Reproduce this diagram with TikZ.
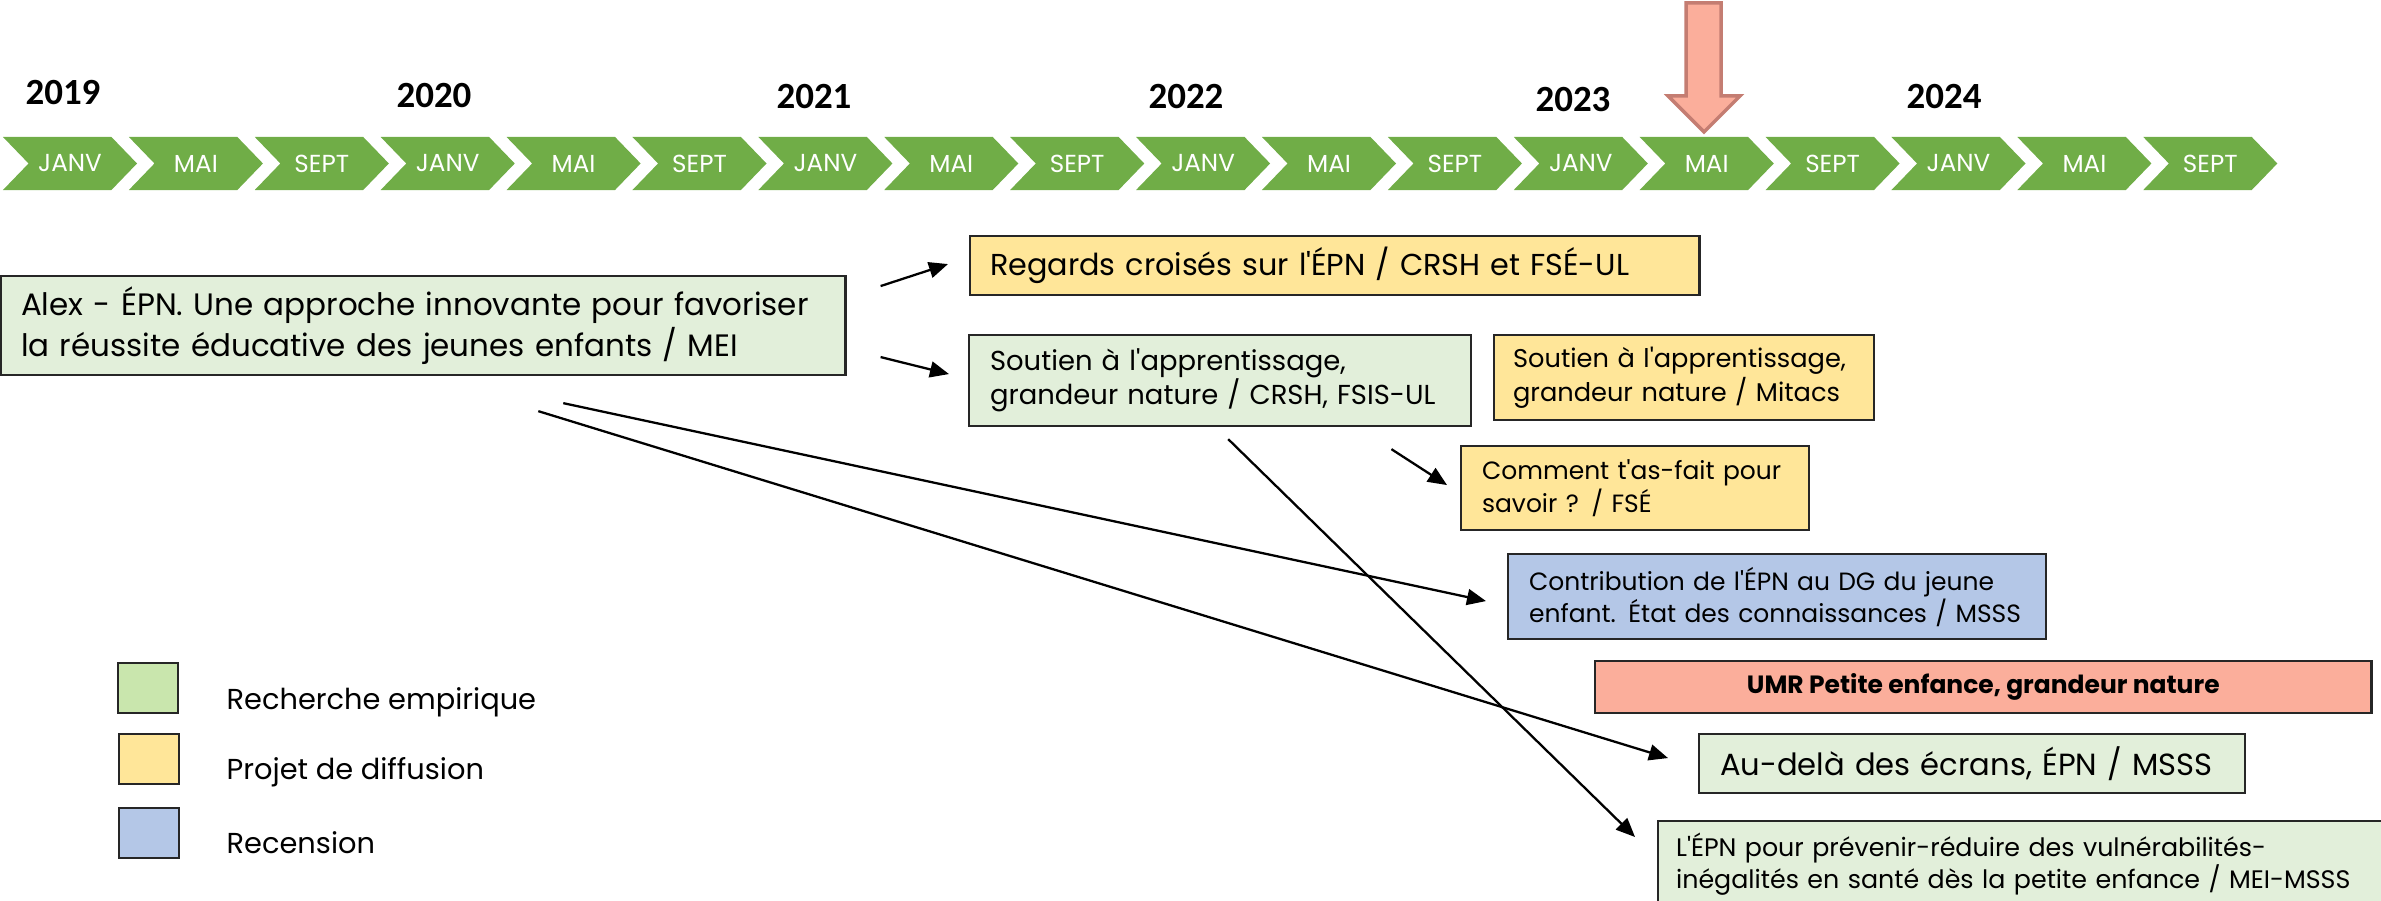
\documentclass[tikz,border=0pt]{standalone}
\usepackage{fontspec}
\newfontfamily\yearfont{Carlito}
\newfontfamily\gothicfont{Poppins}
\usetikzlibrary{shapes.symbols,arrows.meta,calc}
\def\gothic#1#2{\gothicfont\fontsize{#1}{#2}\selectfont}
\definecolor{chevgreen}{HTML}{70AD47}
\definecolor{boxgreen}{HTML}{E2EFDA}
\definecolor{leggreen}{HTML}{C9E6AD}
\definecolor{boxyellow}{HTML}{FFE699}
\definecolor{boxblue}{HTML}{B4C7E7}
\definecolor{salmon}{HTML}{FBAE9B}
\definecolor{salmondark}{HTML}{C47D72}
\def\chevStep{125.9}

\begin{document}
\begin{tikzpicture}[x=0.01cm, y=-0.01cm,
  chev/.style={signal, signal from=west, signal to=east, signal pointer angle=92,
    fill=chevgreen, minimum width=1.34cm, minimum height=0.53cm, inner sep=0pt,
    text=white, font=\gothic{7}{8.5}},
  yr/.style={font=\yearfont\bfseries\fontsize{10.5}{12}\selectfont},
  box/.style={draw=black!85, line width=0.6pt, anchor=north west, inner ysep=0pt, align=left},
  legsq/.style={draw=black!85, line width=0.6pt, anchor=north west,
    minimum width=0.6cm, minimum height=0.5cm, inner sep=0pt},
  legtxt/.style={anchor=west, inner sep=0pt, font=\gothic{8.2}{9.5}},
  link/.style={-{Triangle[length=0.19cm,width=0.16cm]}, line width=0.65pt}]
\useasboundingbox (0,0) rectangle (2381,901);

% timeline
\foreach \yy in {0,...,5}
{
  \foreach \mm [count=\k from 0] in {JANV,MAI,SEPT}
  {
    \pgfmathtruncatemacro\idx{3*\yy+\k}
    \node [chev] (m\idx) at ({3+\idx*\chevStep+67},163.5) {\mm};
  }
}
\node [yr] (y2019) at (63,93) {2019};
\node [yr] (y2020) at (434,96) {2020};
\node [yr] (y2021) at (814,97) {2021};
\node [yr] (y2022) at (1186,97) {2022};
\node [yr] (y2023) at (1573,100) {2023};
\node [yr] (y2024) at (1944,97) {2024};

% now
\draw [fill=salmon, draw=salmondark, line width=1pt]
  (1686,3) -- (1721,3) -- (1721,96) -- (1740,96) -- (1704,132) -- (1668,96) -- (1686,96) -- cycle;

% projects
\node [box, fill=boxgreen, inner xsep=0.2cm, text width=8.04cm, minimum height=0.99cm,
  font=\gothic{8.8}{10.2}] (alex) at (0,275)
  {Alex - ÉPN. Une approche innovante pour favoriser\\la réussite éducative des jeunes enfants / MEI};
\node [box, fill=boxyellow, inner xsep=0.2cm, text width=6.89cm, minimum height=0.59cm,
  font=\gothic{8.6}{10}] (regards) at (969,235)
  {Regards croisés sur l'ÉPN / CRSH et FSÉ-UL};
\node [box, fill=boxgreen, inner xsep=0.21cm, text width=4.60cm, minimum height=0.91cm,
  font=\gothic{7.8}{9.7}] (soutienA) at (968,334)
  {Soutien à l'apprentissage,\\grandeur nature / CRSH, FSIS-UL};
\node [box, fill=boxyellow, inner xsep=0.19cm, text width=3.42cm, minimum height=0.85cm,
  font=\gothic{7.3}{8.6}] (soutienB) at (1493,334)
  {Soutien à l'apprentissage,\\grandeur nature / Mitacs};
\node [box, fill=boxyellow, inner xsep=0.21cm, text width=3.06cm, minimum height=0.84cm,
  font=\gothic{7.1}{8.5}] (comment) at (1460,445)
  {Comment t'as-fait pour\\savoir ? / FSÉ};
\node [box, fill=boxblue, inner xsep=0.21cm, text width=4.96cm, minimum height=0.85cm,
  font=\gothic{7.1}{9.1}] (contrib) at (1507,553)
  {Contribution de l'ÉPN au DG du jeune\\enfant. État des connaissances / MSSS};
\node [box, fill=salmon, align=center, inner xsep=0pt, minimum width=7.76cm, minimum height=0.52cm,
  font=\gothic{7.1}{8.5}\bfseries] (umr) at (1594,660)
  {UMR Petite enfance, grandeur nature};
\node [box, fill=boxgreen, inner xsep=0.21cm, text width=5.04cm, minimum height=0.59cm,
  font=\gothic{8.7}{10.5}] (audela) at (1698,733)
  {\mbox{Au-delà des écrans, ÉPN / MSSS}};
\node [box, fill=boxgreen, inner xsep=0.18cm, text width=7.04cm, minimum height=0.86cm,
  font=\gothic{7.2}{9.1}] (lepn) at (1657,820)
  {L'ÉPN pour prévenir-réduire des vulnérabilités-\\inégalités en santé dès la petite enfance / MEI-MSSS};

% legend
\node [legsq, fill=leggreen] (lg1) at (117,662) {};
\node [legsq, fill=boxyellow] (lg2) at (118,733) {};
\node [legsq, fill=boxblue] (lg3) at (118,807) {};
\node [legtxt] (lt1) at (226,702) {Recherche empirique};
\node [legtxt] (lt2) at (226,772) {Projet de diffusion};
\node [legtxt] (lt3) at (226,843) {Recension};

% links
\coordinate (aS) at ($(alex.east)+(34,-39.5)$);
\coordinate (aE) at ($(regards.west)+(-21,-1.5)$);
\coordinate (bS) at ($(alex.east)+(34,31.5)$);
\coordinate (bE) at ($(soutienA.west)+(-19,-6.5)$);
\coordinate (cS) at ($(alex.south)+(140,27)$);
\coordinate (cE) at ($(contrib.west)+(-21,4.5)$);
\coordinate (dS) at ($(alex.south)+(115,35)$);
\coordinate (dE) at ($(audela.west)+(-30,-5.5)$);
\coordinate (eS) at ($(soutienA.south)+(8,12)$);
\coordinate (eE) at ($(lepn.north west)+(-22,17)$);
\coordinate (fS) at ($(soutienA.south east)+(-81,22)$);
\coordinate (fE) at ($(comment.west)+(-13,-3)$);
\draw [link] (aS) -- (aE);
\draw [link] (bS) -- (bE);
\draw [link] (cS) -- (cE);
\draw [link] (dS) -- (dE);
\draw [link] (eS) -- (eE);
\draw [link] (fS) -- (fE);
\end{tikzpicture}
\end{document}
